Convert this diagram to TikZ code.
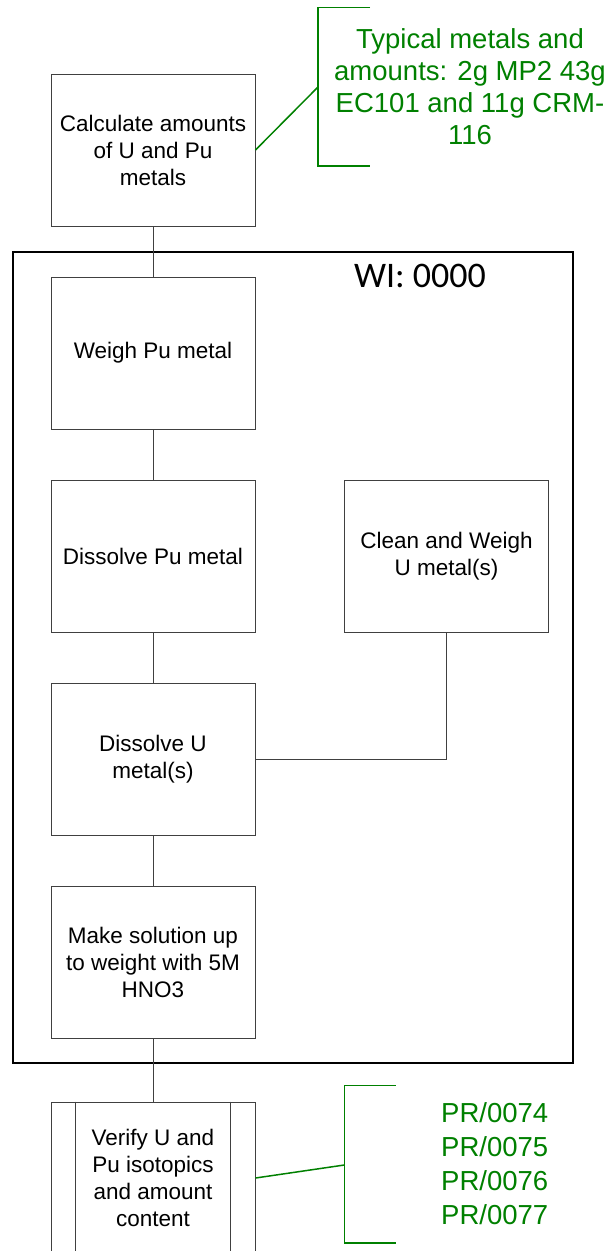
\documentclass[tikz,border=0pt]{standalone}
\usepackage{fontspec}
\setmainfont{Liberation Sans}
\newfontfamily\wifont{Carlito}
\definecolor{notegreen}{RGB}{0,128,0}

\tikzset{
	stepbox/.style={ draw=black!75, line width=1pt, fill=white, minimum width=204pt, minimum height=152pt, inner sep=0pt, align=center, font=\fontsize{22.5}{27}\selectfont },
	link/.style={ draw=black!75, line width=1pt },
	frame/.style={ draw=black, line width=2pt },
	note/.style={ text=notegreen, inner sep=0pt, font=\fontsize{27.5}{32}\selectfont },
	bracket/.style={ draw=notegreen, line width=1.5pt }
}

\begin{document}
\begin{tikzpicture}[ x=1pt, y=-1pt ]

	\def\colx{153}
	\def\sidex{446.5}
	\def\procoff{25}

	\useasboundingbox (0, 0) rectangle (612, 1251);

	% outer work instruction frame
	\draw[ frame ] (12.7, 252) rectangle (573, 1063.3);
	\node[ anchor=center, inner sep=0pt, font=\wifont\fontsize{36}{40}\selectfont ] (wi) at (420, 276) {WI: 0000};

	\node[ stepbox ] (calc) at (\colx, 150) {Calculate amounts\\of U and Pu\\metals};
	\node[ stepbox ] (weigh) at (\colx, 353) {Weigh Pu metal};
	\node[ stepbox ] (dispu) at (\colx, 556) {Dissolve Pu metal};
	\node[ stepbox ] (clean) at (\sidex, 556) {Clean and Weigh\\U metal(s)};
	\node[ stepbox ] (disu) at (\colx, 759) {Dissolve U\\metal(s)};
	\node[ stepbox ] (make) at (\colx, 962) {Make solution up\\to weight with 5M\\HNO3};
	\node[ stepbox ] (verify) at (\colx, 1178) {Verify U and\\Pu isotopics\\and amount\\content};

	% predefined process sides
	\draw[ link ] ([xshift=\procoff]verify.north west) -- ([xshift=\procoff]verify.south west);
	\draw[ link ] ([xshift=-\procoff]verify.north east) -- ([xshift=-\procoff]verify.south east);

	\draw[ link ] (calc) -- (weigh);
	\draw[ link ] (weigh) -- (dispu);
	\draw[ link ] (dispu) -- (disu);
	\draw[ link ] (clean.south) |- (disu.east);
	\draw[ link ] (disu) -- (make);
	\draw[ link ] (make) -- (verify);

	% annotations
	\coordinate (noteA) at (318, 87);
	\draw[ bracket ] (370, 7.7) -- (318, 7.7) -- (318, 166) -- (370, 166);
	\draw[ bracket ] (calc.east) -- (noteA);
	\node[ note, align=center ] (typical) at (470, 87) {Typical metals and\\amounts: 2g MP2 43g\\EC101 and 11g CRM-\\116};

	\coordinate (noteB) at (344.3, 1165);
	\draw[ bracket ] (395.7, 1085.7) -- (344.3, 1085.7) -- (344.3, 1243) -- (395.7, 1243);
	\draw[ bracket ] (verify.east) -- (noteB);
	\node[ note, align=left, anchor=west, font=\fontsize{27.5}{34}\selectfont ] (procs) at (441, 1164) {PR/0074\\PR/0075\\PR/0076\\PR/0077};

\end{tikzpicture}
\end{document}
